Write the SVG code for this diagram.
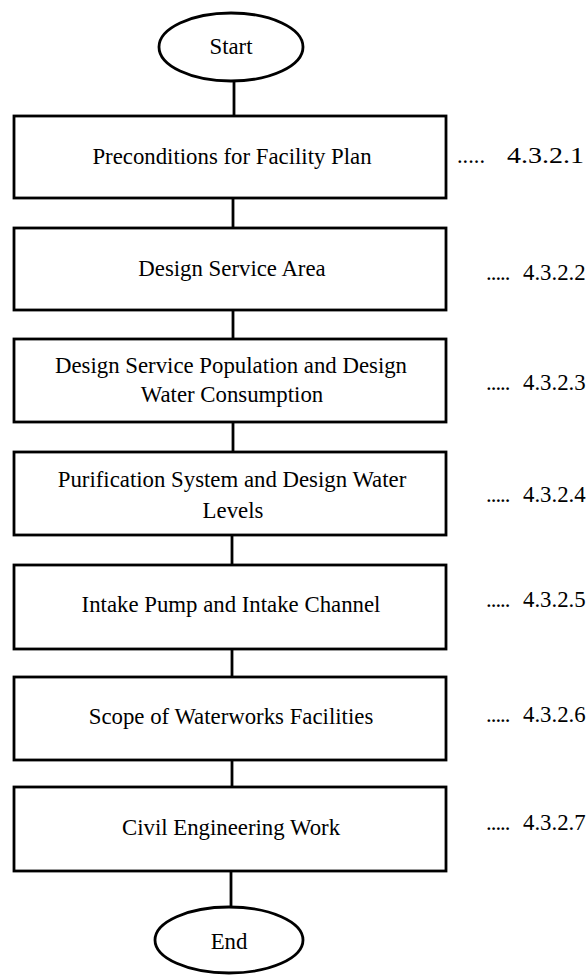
<svg xmlns="http://www.w3.org/2000/svg" width="587" height="975" viewBox="0 0 587 975">
  <style>
    .shape { fill: #fff; stroke: #000; stroke-width: 2.8; }
    .wire { stroke: #000; stroke-width: 2.8; fill: none; }
    text { font-family: "Liberation Serif", "Times New Roman", serif; font-size: 22.8px; fill: #000; }
    .c { text-anchor: middle; }
    .dots { letter-spacing: -1px; }
  </style>
  <rect width="587" height="975" fill="#fff"/>

  <!-- vertical links between the steps -->
  <g id="connectors">
    <line class="wire" x1="234" y1="81" x2="234" y2="116"/>
    <line class="wire" x1="233" y1="198" x2="233" y2="228"/>
    <line class="wire" x1="233" y1="310" x2="233" y2="339"/>
    <line class="wire" x1="233" y1="422" x2="233" y2="452"/>
    <line class="wire" x1="232" y1="535" x2="232" y2="565"/>
    <line class="wire" x1="232" y1="649" x2="232" y2="677"/>
    <line class="wire" x1="232" y1="760" x2="232" y2="787"/>
    <line class="wire" x1="231" y1="871" x2="231" y2="907"/>
  </g>

  <g id="start">
    <ellipse class="shape" cx="231" cy="47" rx="72" ry="34"/>
    <text class="c" x="231" y="54">Start</text>
  </g>

  <g id="step1">
    <rect class="shape" x="14" y="116" width="432" height="82"/>
    <text class="c" x="232" y="164">Preconditions for Facility Plan</text>
    <text x="457" y="163" textLength="28" lengthAdjust="spacingAndGlyphs">.....</text>
    <text x="507" y="163" textLength="77" lengthAdjust="spacingAndGlyphs">4.3.2.1</text>
  </g>

  <g id="step2">
    <rect class="shape" x="14" y="228" width="432" height="82"/>
    <text class="c" x="232" y="276">Design Service Area</text>
    <text class="dots" x="486" y="280">.....</text>
    <text x="523" y="280">4.3.2.2</text>
  </g>

  <g id="step3">
    <rect class="shape" x="14" y="339" width="432" height="83"/>
    <text class="c" x="231" y="373">Design Service Population and Design</text>
    <text class="c" x="232" y="402">Water Consumption</text>
    <text class="dots" x="486" y="390">.....</text>
    <text x="523" y="390">4.3.2.3</text>
  </g>

  <g id="step4">
    <rect class="shape" x="14" y="452" width="432" height="83"/>
    <text class="c" x="232" y="487">Purification System and Design Water</text>
    <text class="c" x="233" y="518">Levels</text>
    <text class="dots" x="486" y="502">.....</text>
    <text x="523" y="502">4.3.2.4</text>
  </g>

  <g id="step5">
    <rect class="shape" x="14" y="565" width="432" height="84"/>
    <text class="c" x="231" y="612">Intake Pump and Intake Channel</text>
    <text class="dots" x="486" y="607">.....</text>
    <text x="523" y="607">4.3.2.5</text>
  </g>

  <g id="step6">
    <rect class="shape" x="14" y="677" width="432" height="83"/>
    <text class="c" x="231" y="724">Scope of Waterworks Facilities</text>
    <text class="dots" x="486" y="722">.....</text>
    <text x="523" y="722">4.3.2.6</text>
  </g>

  <g id="step7">
    <rect class="shape" x="14" y="787" width="432" height="84"/>
    <text class="c" x="231" y="835">Civil Engineering Work</text>
    <text class="dots" x="486" y="830">.....</text>
    <text x="523" y="830">4.3.2.7</text>
  </g>

  <g id="end">
    <ellipse class="shape" cx="229" cy="940" rx="74" ry="33"/>
    <text class="c" x="229" y="949">End</text>
  </g>
</svg>
